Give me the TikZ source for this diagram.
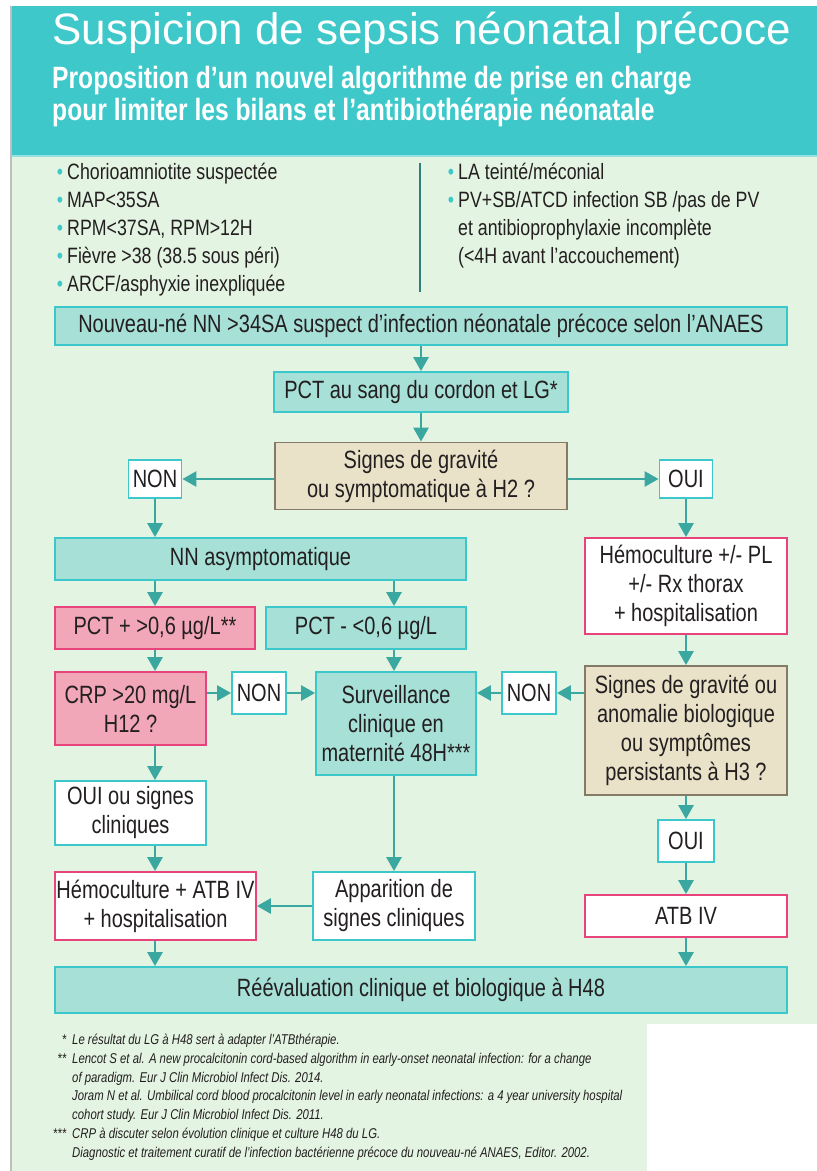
\documentclass[tikz,border=0pt]{standalone}
\usepackage{fontspec}
\setmainfont{Liberation Sans}
\newfontfamily\condfont{Liberation Sans}[FakeStretch=0.8]
\newfontfamily\notefont{Liberation Sans}[FakeStretch=0.8]
\usetikzlibrary{arrows.meta}
\definecolor{headc}{RGB}{62,200,202}
\definecolor{bgc}{RGB}{228,244,226}
\definecolor{tealfill}{RGB}{166,224,214}
\definecolor{tealline}{RGB}{60,200,202}
\definecolor{pinkfill}{RGB}{242,167,184}
\definecolor{pinkline}{RGB}{232,68,124}
\definecolor{tanfill}{RGB}{233,225,200}
\definecolor{tanline}{RGB}{133,122,102}
\definecolor{arrc}{RGB}{58,168,160}
\definecolor{txt}{RGB}{35,31,32}
\definecolor{sepc}{RGB}{47,127,122}
\begin{document}
\begin{tikzpicture}[x=1pt, y=-1pt,
    box/.style={draw, line width=1.8pt, inner sep=0pt, align=center, text=txt,
        font=\condfont\fontsize{25}{29}\selectfont},
    tealbox/.style={box, draw=tealline, fill=tealfill},
    tealwhite/.style={box, draw=tealline, fill=white},
    pinkbox/.style={box, draw=pinkline, fill=pinkfill},
    pinkwhite/.style={box, draw=pinkline, fill=white},
    tanbox/.style={box, draw=tanline, fill=tanfill},
    item/.style={anchor=base west, inner sep=0pt, text=txt, font=\condfont\fontsize{22.2}{24}\selectfont},
    note/.style={anchor=base west, inner sep=0pt, text=txt, font=\notefont\itshape\fontsize{14.2}{16}\selectfont},
    arr/.style={draw=arrc, line width=2.6pt, -{Triangle[length=14pt, width=15pt]}}]
    \useasboundingbox (0,0) rectangle (817,1171);
    \fill [white] (0,0) rectangle (817,1171);
    \fill [bgc] (12,155) rectangle (817,1171);
    \fill [headc] (12,6) rectangle (817,155);
    \draw [headc!55, line width=2pt] (12,156) -- (817,156);
    \draw [black!25, line width=2pt] (11,6) -- (11,1171);
    \fill [white] (647,1024) rectangle (817,1171);
    % header
    \node [anchor=base west, inner sep=0pt, text=white, font=\fontsize{44}{50}\selectfont] (title) at (52,44) {Suspicion de sepsis néonatal précoce};
    \node [anchor=base west, inner sep=0pt, text=white, font=\condfont\bfseries\fontsize{30.8}{32}\selectfont] (sub1) at (52,88) {Proposition d’un nouvel algorithme de prise en charge};
    \node [anchor=base west, inner sep=0pt, text=white, font=\condfont\bfseries\fontsize{30.8}{32}\selectfont] (sub2) at (52,120) {pour limiter les bilans et l’antibiothérapie néonatale};
    % risk factors
    \node [item] (lf1) at (67,179) {\llap{\textcolor{headc}{•}\hspace{4pt}}Chorioamniotite suspectée};
    \node [item] (lf2) at (67,207) {\llap{\textcolor{headc}{•}\hspace{4pt}}MAP<35SA};
    \node [item] (lf3) at (67,235) {\llap{\textcolor{headc}{•}\hspace{4pt}}RPM<37SA, RPM>12H};
    \node [item] (lf4) at (67,263) {\llap{\textcolor{headc}{•}\hspace{4pt}}Fièvre >38 (38.5 sous péri)};
    \node [item] (lf5) at (67,291) {\llap{\textcolor{headc}{•}\hspace{4pt}}ARCF/asphyxie inexpliquée};
    \draw [sepc, line width=1.2pt] (420,163) -- (420,292);
    \node [item] (rf1) at (458,179) {\llap{\textcolor{headc}{•}\hspace{4pt}}LA teinté/méconial};
    \node [item] (rf2) at (458,207) {\llap{\textcolor{headc}{•}\hspace{4pt}}PV+SB/ATCD infection SB /pas de PV};
    \node [item] (rf3) at (458,235) {et antibioprophylaxie incomplète};
    \node [item] (rf4) at (458,263) {(<4H avant l’accouchement)};
    % boxes
    \node [tealbox, minimum width=732pt, minimum height=38pt] (nn) at (421,326) {Nouveau-né NN >34SA suspect d’infection néonatale précoce selon l’ANAES};
    \node [tealbox, minimum width=294pt, minimum height=40pt] (pct) at (421,392) {PCT au sang du cordon et LG*};
    \node [tanbox, minimum width=292pt, minimum height=67pt] (grav) at (421,476) {Signes de gravité\\ou symptomatique à H2 ?};
    \node [tealwhite, minimum width=53pt, minimum height=38pt] (non1) at (155,479) {NON};
    \node [tealwhite, minimum width=53pt, minimum height=38pt] (oui1) at (686,479) {OUI};
    \node [tealbox, minimum width=411pt, minimum height=42pt] (asym) at (260.5,559) {NN asymptomatique};
    \node [pinkwhite, minimum width=202pt, minimum height=96pt] (hemo) at (686,586) {Hémoculture +/- PL\\+/- Rx thorax\\+ hospitalisation};
    \node [pinkbox, minimum width=200pt, minimum height=42pt] (pctp) at (155,628) {PCT + >0,6 µg/L**};
    \node [tealbox, minimum width=200pt, minimum height=42pt] (pctm) at (366,628) {PCT - <0,6 µg/L};
    \node [pinkbox, minimum width=151pt, minimum height=73pt] (crp) at (130.5,708.5) {CRP >20 mg/L\\H12 ?};
    \node [tealwhite, minimum width=54pt, minimum height=42pt] (non2) at (259,693) {NON};
    \node [tealbox, minimum width=160pt, minimum height=103pt] (surv) at (396,723.5) {Surveillance\\clinique en\\maternité 48H***};
    \node [tealwhite, minimum width=54pt, minimum height=42pt] (non3) at (529,693) {NON};
    \node [tanbox, minimum width=202pt, minimum height=129pt] (grav3) at (686,730.5) {Signes de gravité ou\\anomalie biologique\\ou symptômes\\persistants à H3 ?};
    \node [tealwhite, minimum width=151pt, minimum height=64pt] (ouisig) at (130.5,813) {OUI ou signes\\cliniques};
    \node [tealwhite, minimum width=56pt, minimum height=42pt] (oui2) at (686,841) {OUI};
    \node [pinkwhite, minimum width=201pt, minimum height=68pt] (hematb) at (155.5,906) {Hémoculture + ATB IV\\+ hospitalisation};
    \node [tealwhite, minimum width=162pt, minimum height=68pt] (appar) at (394,906) {Apparition de\\signes cliniques};
    \node [pinkwhite, minimum width=202pt, minimum height=42pt] (atb) at (686,916) {ATB IV};
    \node [tealbox, minimum width=732pt, minimum height=46pt] (reev) at (421,990) {Réévaluation clinique et biologique à H48};
    % arrows
    \draw [arr] (nn) -- (pct);
    \draw [arr] (pct) -- (grav);
    \draw [arr] (grav.west |- non1) -- (non1);
    \draw [arr] (grav.east |- oui1) -- (oui1);
    \draw [arr] (non1) -- (non1 |- asym.north);
    \draw [arr] (oui1) -- (hemo);
    \draw [arr] (asym.south -| pctp) -- (pctp);
    \draw [arr] (asym.south -| appar) -- (appar |- pctm.north);
    \draw [arr] (pctm.south -| appar) -- (appar |- surv.north);
    \draw [arr] (pctp) -- (pctp |- crp.north);
    \draw [arr] (crp.east |- non2) -- (non2);
    \draw [arr] (non2) -- (surv.west |- non2);
    \draw [arr] (grav3.west |- non3) -- (non3);
    \draw [arr] (non3) -- (surv.east |- non3);
    \draw [arr] (hemo) -- (grav3);
    \draw [arr] (crp.south -| pctp) -- (pctp |- ouisig.north);
    \draw [arr] (ouisig.south -| pctp) -- (pctp |- hematb.north);
    \draw [arr] (surv.south -| appar) -- (appar);
    \draw [arr] (appar) -- (hematb);
    \draw [arr] (grav3) -- (oui2);
    \draw [arr] (oui2) -- (atb);
    \draw [arr] (hematb.south -| pctp) -- (pctp |- reev.north);
    \draw [arr] (atb) -- (atb |- reev.north);
    % notes
    \node [note] (fn1) at (72,1044) {\llap{*\hspace{6pt}}Le résultat du LG à H48 sert à adapter l’ATBthérapie.};
    \node [note] (fn2) at (72,1063) {\llap{**\hspace{6pt}}Lencot S et al. A new procalcitonin cord-based algorithm in early-onset neonatal infection: for a change};
    \node [note] (fn3) at (72,1082) {of paradigm. Eur J Clin Microbiol Infect Dis. 2014.};
    \node [note] (fn4) at (72,1100) {Joram N et al. Umbilical cord blood procalcitonin level in early neonatal infections: a 4 year university hospital};
    \node [note] (fn5) at (72,1119) {cohort study. Eur J Clin Microbiol Infect Dis. 2011.};
    \node [note] (fn6) at (72,1138) {\llap{***\hspace{6pt}}CRP à discuter selon évolution clinique et culture H48 du LG.};
    \node [note] (fn7) at (72,1157) {Diagnostic et traitement curatif de l’infection bactérienne précoce du nouveau-né ANAES, Editor. 2002.};
\end{tikzpicture}
\end{document}
